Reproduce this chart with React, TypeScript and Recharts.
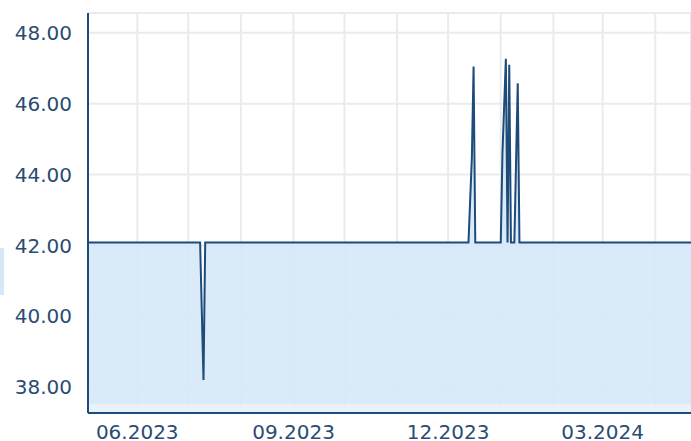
import { AreaChart, Area, XAxis, YAxis, CartesianGrid, ReferenceArea } from 'recharts';

const dates = [
  '2023-05-03', '2023-07-08', '2023-07-10', '2023-07-11',
  '2023-12-13', '2023-12-15', '2023-12-16', '2023-12-17',
  '2024-01-01', '2024-01-02', '2024-01-04', '2024-01-05', '2024-01-06', '2024-01-07',
  '2024-01-09', '2024-01-11', '2024-01-12', '2024-04-22',
];
const prices = [
  42.08, 42.08, 38.2, 42.08,
  42.08, 44.5, 47.05, 42.08,
  42.08, 44.6, 47.27, 42.08, 47.1, 42.08,
  42.08, 46.58, 42.08, 42.08,
];
const monthTicks = [
  '2023-06-01', '2023-07-01', '2023-08-01', '2023-09-01', '2023-10-01', '2023-11-01',
  '2023-12-01', '2024-01-01', '2024-02-01', '2024-03-01', '2024-04-01',
];
const labelledMonths = ['2023-06-01', '2023-09-01', '2023-12-01', '2024-03-01'];
const yTicks = [38, 40, 42, 44, 46, 48];

const ts = (d: string) => Date.parse(d + 'T00:00:00Z');

const data = dates.map((d, i) => ({ t: ts(d), price: prices[i] }));
const xTicks = monthTicks.map(ts);
const labelled = labelledMonths.map(ts);

const navy = '#1d4b7a';
const textColor = '#2a4c73';

function formatMonth(v: number) {
  if (!labelled.includes(v)) return '';
  const d = new Date(v);
  const m = String(d.getUTCMonth() + 1).padStart(2, '0');
  return `${m}.${d.getUTCFullYear()}`;
}

export default function App() {
  return (
    <div style={{ position: 'absolute', left: 0, top: 0, width: 691, height: 441 }}>
      <div style={{ position: 'absolute', left: 0, top: 248, width: 4, height: 47, background: '#d6e8f8' }} />
      <AreaChart width={691} height={441} data={data} margin={{ top: 13, right: 0, left: 0, bottom: 0 }}>
        <CartesianGrid stroke="#ebebeb" strokeWidth={2} />
        <XAxis
          dataKey="t"
          type="number"
          scale="time"
          domain={[ts('2023-05-03'), ts('2024-04-22')]}
          allowDataOverflow
          ticks={xTicks}
          tickFormatter={formatMonth}
          height={28}
          tickSize={0}
          tickMargin={12}
          axisLine={{ stroke: navy, strokeWidth: 2 }}
          tick={{ fill: textColor, fontSize: 20, fontFamily: 'DejaVu Sans' }}
          interval={0}
        />
        <YAxis
          type="number"
          domain={[37.27, 48.56]}
          allowDataOverflow
          ticks={yTicks}
          tickFormatter={(v: number) => v.toFixed(2)}
          width={88}
          tickSize={0}
          tickMargin={16}
          axisLine={{ stroke: navy, strokeWidth: 2 }}
          tick={{ fill: textColor, fontSize: 20, fontFamily: 'DejaVu Sans' }}
          interval={0}
        />
        <ReferenceArea y1={37.27} y2={37.52} fill="#e5f1fb" fillOpacity={0.9} stroke="none" />
        <Area
          type="linear"
          dataKey="price"
          baseValue={37.52}
          stroke={navy}
          strokeWidth={2}
          fill="#d7e8f7"
          fillOpacity={0.9}
          dot={false}
          activeDot={false}
          isAnimationActive={false}
        />
      </AreaChart>
    </div>
  );
}
